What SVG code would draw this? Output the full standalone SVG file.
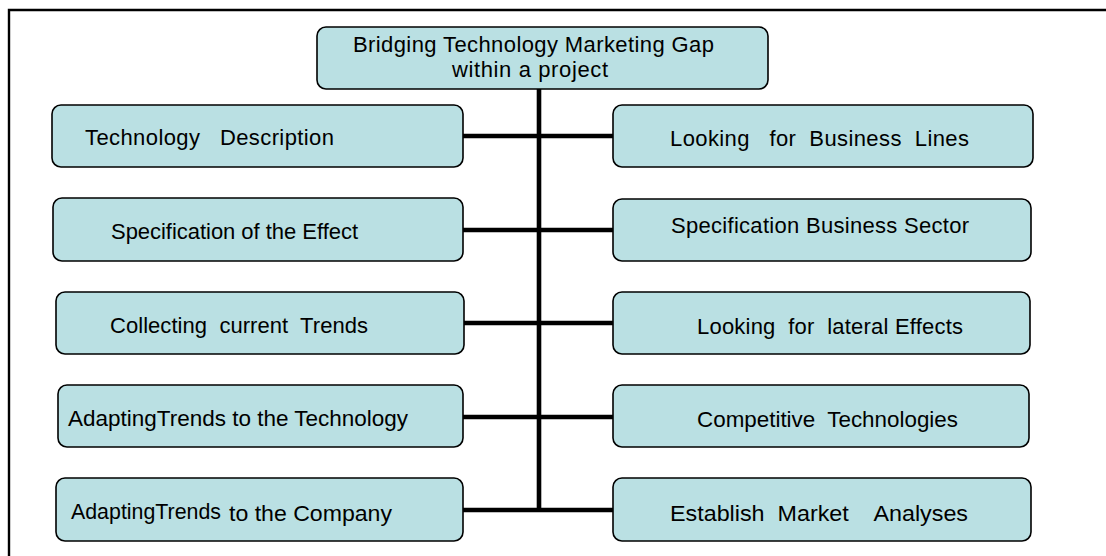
<svg xmlns="http://www.w3.org/2000/svg" width="1106" height="556" viewBox="0 0 1106 556">
<style>
.box{fill:#BAE0E3;stroke:#000;stroke-width:1.6}
.t{font-family:"Liberation Sans",Arial,sans-serif;font-size:22px;fill:#000}
.n{font-family:"Liberation Sans Narrow","Liberation Sans",Arial,sans-serif;font-size:22px;fill:#000}
.c{stroke:#000;stroke-width:4.6;fill:none}
</style>
<rect width="1106" height="556" fill="#fff"/>
<path d="M9,556 V10 H1106" fill="none" stroke="#000" stroke-width="2.4"/>
<g id="connectors">
<line class="c" x1="539" y1="89" x2="539" y2="512"/>
<line class="c" x1="463" y1="136" x2="613" y2="136"/>
<line class="c" x1="463" y1="230" x2="613" y2="230"/>
<line class="c" x1="464" y1="323" x2="613" y2="323"/>
<line class="c" x1="463" y1="417" x2="613" y2="417"/>
<line class="c" x1="463" y1="510" x2="613" y2="510"/>
</g>
<g id="root">
<rect class="box" x="317" y="27" width="451" height="62" rx="9"/>
<text class="t" x="353" y="52" textLength="361" lengthAdjust="spacing">Bridging Technology Marketing Gap</text>
<text class="t" x="452" y="77" textLength="156" lengthAdjust="spacing">within a project</text>
</g>
<g id="n-tech-desc">
<rect class="box" x="52" y="105" width="411" height="62" rx="9"/>
<text class="t" x="85" y="145" textLength="249" lengthAdjust="spacing" xml:space="preserve">Technology   Description</text>
</g>
<g id="n-spec-effect">
<rect class="box" x="53" y="198" width="410" height="63" rx="9"/>
<text class="t" x="111" y="239" textLength="247" lengthAdjust="spacing">Specification of the Effect</text>
</g>
<g id="n-collect-trends">
<rect class="box" x="56" y="292" width="408" height="62" rx="9"/>
<text class="t" x="110" y="333" textLength="258" lengthAdjust="spacing" xml:space="preserve">Collecting  current  Trends</text>
</g>
<g id="n-adapt-tech">
<rect class="box" x="58" y="385" width="405" height="62" rx="9"/>
<text class="n" x="68" y="426" textLength="340" lengthAdjust="spacingAndGlyphs">AdaptingTrends to the Technology</text>
</g>
<g id="n-adapt-company">
<rect class="box" x="56" y="478" width="407" height="63" rx="9"/>
<text class="n" x="71" y="519" textLength="150" lengthAdjust="spacingAndGlyphs">AdaptingTrends</text>
<text class="n" x="229" y="521" textLength="163" lengthAdjust="spacingAndGlyphs">to the Company</text>
</g>
<g id="n-business-lines">
<rect class="box" x="613" y="105" width="420" height="62" rx="9"/>
<text class="t" x="670" y="146" textLength="299" lengthAdjust="spacing" xml:space="preserve">Looking   for  Business  Lines</text>
</g>
<g id="n-business-sector">
<rect class="box" x="613" y="199" width="418" height="62" rx="9"/>
<text class="t" x="671" y="233" textLength="298" lengthAdjust="spacing">Specification Business Sector</text>
</g>
<g id="n-lateral-effects">
<rect class="box" x="613" y="292" width="417" height="62" rx="9"/>
<text class="t" x="697" y="334" textLength="266" lengthAdjust="spacing" xml:space="preserve">Looking  for  lateral Effects</text>
</g>
<g id="n-competitive">
<rect class="box" x="613" y="385" width="416" height="62" rx="9"/>
<text class="n" x="697" y="427" textLength="261" lengthAdjust="spacingAndGlyphs" xml:space="preserve">Competitive  Technologies</text>
</g>
<g id="n-market">
<rect class="box" x="613" y="478" width="418" height="63" rx="9"/>
<text class="n" x="670" y="521" textLength="298" lengthAdjust="spacingAndGlyphs" xml:space="preserve">Establish  Market    Analyses</text>
</g>
</svg>
